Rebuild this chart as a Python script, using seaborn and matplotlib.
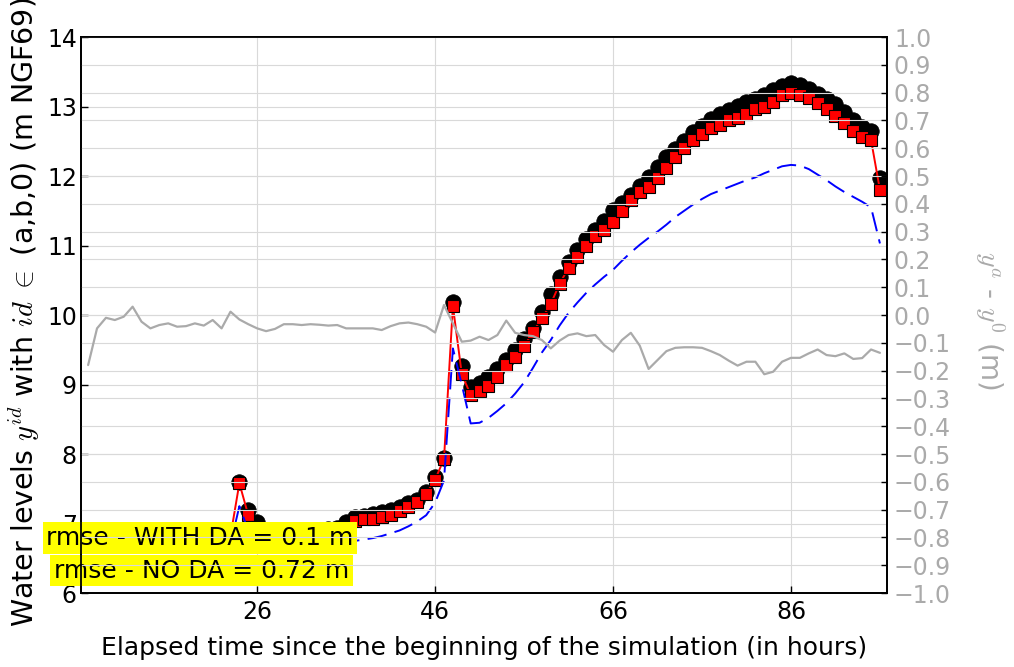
import matplotlib
matplotlib.use("Agg")
import matplotlib.pyplot as plt
import matplotlib.ticker as mticker
import pandas as pd
import seaborn as sns

# hours since start of simulation
hours = list(range(7, 97))

# black circles
y_b = [6.85, 6.88, 6.86, 6.87, 6.85, 6.88, 6.86, 6.84, 6.85, 6.86,
       6.85, 6.84, 6.86, 6.85, 6.87, 6.86, 6.85, 7.60, 7.19, 7.02,
       6.90, 6.88, 6.87, 6.88, 6.89, 6.90, 6.91, 6.92, 6.93, 7.02,
       7.09, 7.11, 7.14, 7.16, 7.19, 7.24, 7.29, 7.34, 7.46, 7.67,
       7.94, 10.19, 9.26, 8.97, 9.02, 9.11, 9.22, 9.35, 9.49, 9.65,
       9.82, 10.05, 10.30, 10.55, 10.77, 10.93, 11.09, 11.22, 11.36, 11.51,
       11.61, 11.72, 11.86, 11.98, 12.13, 12.27, 12.39, 12.51, 12.63, 12.72,
       12.82, 12.89, 12.95, 13.01, 13.06, 13.11, 13.16, 13.24, 13.30, 13.34,
       13.31, 13.25, 13.18, 13.11, 13.03, 12.92, 12.81, 12.71, 12.65, 11.97]

# red squares (with DA)
y_a = [6.78, 6.80, 6.79, 6.80, 6.78, 6.81, 6.79, 6.77, 6.78, 6.79,
       6.78, 6.77, 6.79, 6.78, 6.80, 6.79, 6.82, 7.58, 7.12, 6.95,
       6.84, 6.82, 6.81, 6.82, 6.83, 6.84, 6.85, 6.86, 6.88, 6.93,
       7.04, 7.06, 7.07, 7.09, 7.12, 7.18, 7.24, 7.31, 7.43, 7.63,
       7.93, 10.13, 9.15, 8.85, 8.90, 8.98, 9.11, 9.28, 9.39, 9.55,
       9.76, 9.95, 10.16, 10.45, 10.68, 10.84, 10.99, 11.14, 11.23, 11.34,
       11.50, 11.66, 11.77, 11.84, 11.97, 12.11, 12.28, 12.41, 12.52, 12.61,
       12.69, 12.73, 12.80, 12.83, 12.89, 12.96, 12.99, 13.07, 13.17, 13.19,
       13.17, 13.12, 13.05, 12.96, 12.86, 12.77, 12.65, 12.56, 12.52, 11.80]

# blue dashed (no DA)
y_0 = [6.62, 6.66, 6.67, 6.68, 6.66, 6.69, 6.67, 6.65, 6.66, 6.67,
       6.66, 6.65, 6.67, 6.66, 6.68, 6.67, 6.70, 7.25, 6.90, 6.78,
       6.72, 6.70, 6.69, 6.70, 6.70, 6.71, 6.71, 6.71, 6.72, 6.72,
       6.75, 6.77, 6.79, 6.82, 6.86, 6.90, 6.96, 7.03, 7.12, 7.30,
       7.62, 9.52, 9.00, 8.44, 8.45, 8.52, 8.62, 8.73, 8.87, 9.03,
       9.24, 9.46, 9.64, 9.85, 10.03, 10.18, 10.32, 10.44, 10.55, 10.65,
       10.78, 10.90, 11.01, 11.11, 11.20, 11.30, 11.41, 11.50, 11.59, 11.67,
       11.74, 11.79, 11.84, 11.89, 11.94, 11.98, 12.04, 12.09, 12.14, 12.16,
       12.15, 12.10, 12.02, 11.94, 11.85, 11.77, 11.70, 11.63, 11.55, 11.03]

# gray line, right axis
diff = [-0.180, -0.048, -0.010, -0.018, -0.006, 0.030, -0.024, -0.048, -0.036, -0.030,
        -0.042, -0.040, -0.030, -0.038, -0.018, -0.048, 0.012, -0.016, -0.033, -0.048,
        -0.058, -0.050, -0.033, -0.033, -0.036, -0.033, -0.035, -0.038, -0.036, -0.048,
        -0.048, -0.048, -0.048, -0.054, -0.040, -0.030, -0.027, -0.033, -0.042, -0.063,
        0.036, -0.030, -0.096, -0.092, -0.078, -0.090, -0.072, -0.020, -0.064, -0.072,
        -0.076, -0.090, -0.120, -0.092, -0.072, -0.066, -0.076, -0.072, -0.108, -0.132,
        -0.090, -0.064, -0.110, -0.194, -0.162, -0.130, -0.118, -0.116, -0.116, -0.118,
        -0.130, -0.144, -0.164, -0.182, -0.168, -0.168, -0.213, -0.204, -0.168, -0.154,
        -0.154, -0.138, -0.124, -0.144, -0.148, -0.138, -0.158, -0.155, -0.124, -0.136]

x_ticks = [26, 46, 66, 86]
left_ticks = [6, 7, 8, 9, 10, 11, 12, 13, 14]
right_ticks = [-1.0, -0.9, -0.8, -0.7, -0.6, -0.5, -0.4, -0.3, -0.2, -0.1, 0.0,
               0.1, 0.2, 0.3, 0.4, 0.5, 0.6, 0.7, 0.8, 0.9, 1.0]
rmse_da = 0.1
rmse_noda = 0.72

df = pd.DataFrame({"hour": hours, "y_b": y_b, "y_a": y_a, "y_0": y_0, "diff": diff})

sns.set_style("whitegrid", {"axes.edgecolor": "black", "grid.color": "#d9d9d9",
                            "text.color": "black", "axes.labelcolor": "black"})
plt.rcParams["mathtext.fontset"] = "cm"
plt.rcParams["lines.scale_dashes"] = False
plt.rcParams["axes.linewidth"] = 1.3

gray = "#aaaaaa"

fig = plt.figure(figsize=(10.14, 6.67), dpi=100)
ax = fig.add_axes([0.0799, 0.1109, 0.7949, 0.8336])

sns.scatterplot(x="hour", y="y_b", data=df, ax=ax, color="black", s=125,
                edgecolor="black", linewidth=0.5)
sns.lineplot(x="hour", y="y_a", data=df, ax=ax, color="red", lw=1.4,
             marker="s", markersize=8.3, mfc="red", mec="black", mew=0.8)
sns.lineplot(x="hour", y="y_0", data=df, ax=ax, color="blue", lw=1.4)
ax.lines[-1].set_dashes([14, 6])

ax.set_xlim(6.2, 96.8)
ax.set_ylim(6, 14)
ax.set_xticks(x_ticks)
ax.set_yticks(left_ticks)
ax.tick_params(axis="both", direction="in", length=5, width=1, labelsize=17,
               colors="black", left=True, bottom=True)
ax.tick_params(axis="x", pad=5)
ax.tick_params(axis="y", pad=3)

ax.set_xlabel("Elapsed time since the beginning of the simulation (in hours)", fontsize=18,
              va="center", color="black")
ax.set_ylabel(r"Water levels $y^{id}$ with $id$ $\in$ (a,b,0) (m NGF69)", fontsize=20.5,
              va="center", color="black")
ax.xaxis.set_label_coords(0.5, -0.099)
ax.yaxis.set_label_coords(-0.07, 0.505)

box = dict(boxstyle="square,pad=0.15", facecolor="yellow", edgecolor="none")
ax.text(0.1476, 0.0989, f"rmse - WITH DA = {rmse_da} m", transform=ax.transAxes,
        ha="center", va="center", fontsize=18, color="black", bbox=box,
        clip_on=False, zorder=5)
ax.text(0.1495, 0.0405, f"rmse - NO DA = {rmse_noda} m", transform=ax.transAxes,
        ha="center", va="center", fontsize=18, color="black", bbox=box,
        clip_on=False, zorder=5)

# right axis
ax2 = ax.twinx()
sns.lineplot(x="hour", y="diff", data=df, ax=ax2, color=gray, lw=1.6)
ax2.set_ylim(-1, 1)
ax2.set_yticks(right_ticks)
ax2.yaxis.set_major_formatter(
    mticker.FuncFormatter(lambda v, p: f"{v:.1f}".replace("-", "\u2212")))
ax2.tick_params(axis="y", direction="in", length=4, width=1, labelsize=17,
                labelcolor=gray, color="black", right=True, pad=5)
ax2.grid(True, axis="y", color="#d9d9d9")
ax2.set_ylabel(r"$y^a$ - $y^0$ (m)", fontsize=20, color=gray, rotation=270,
               va="center", ha="center")
ax2.yaxis.set_label_coords(1.128, 0.49)
ax.set_xlim(6.2, 96.8)

fig.savefig("out.png", dpi=100)
